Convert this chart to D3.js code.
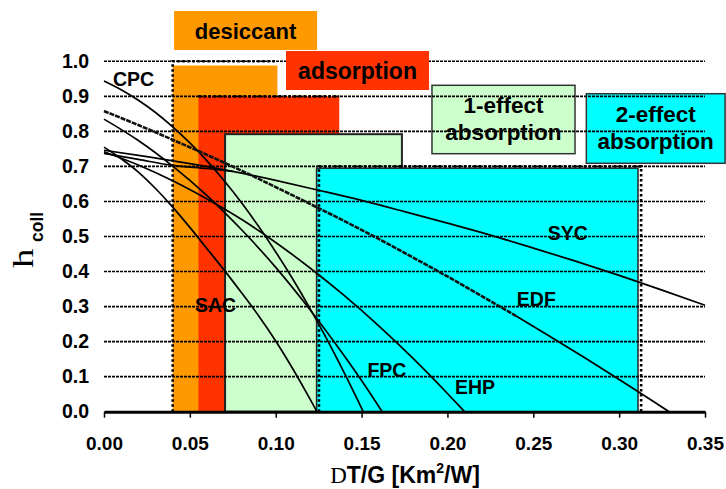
<!DOCTYPE html>
<html>
<head>
<meta charset="utf-8">
<title>Collector efficiency vs dT/G</title>
<script src="https://d3js.org/d3.v7.min.js"></script>
<style>
  body { margin: 0; background: #fff; }
  text { font-family: "Liberation Sans", Arial, sans-serif; }
</style>
</head>
<body>
<script>

// ---- data (x = dT/G [Km2/W], y = collector efficiency) ----
var xTicks = [0, 0.05, 0.10, 0.15, 0.20, 0.25, 0.30, 0.35];
var yTicks = [0, 0.1, 0.2, 0.3, 0.4, 0.5, 0.6, 0.7, 0.8, 0.9, 1.0];

var CPC = [[0,0.944],[0.01,0.919],[0.02,0.889],[0.03,0.854],[0.04,0.813],[0.05,0.767],[0.06,0.716],
           [0.07,0.659],[0.08,0.597],[0.09,0.529],[0.10,0.456],[0.11,0.378],[0.12,0.294],[0.13,0.205],
           [0.14,0.110],[0.151,0]];
var EDF = [[0,0.858],[0.02,0.818],[0.04,0.776],[0.06,0.733],[0.08,0.688],[0.10,0.641],[0.12,0.593],
           [0.14,0.544],[0.16,0.493],[0.18,0.440],[0.20,0.386],[0.22,0.330],[0.24,0.273],[0.26,0.214],
           [0.28,0.154],[0.30,0.092],[0.32,0.029],[0.329,0]];
var SYC = [[0,0.746],[0.025,0.728],[0.05,0.708],[0.075,0.686],[0.10,0.660],[0.125,0.632],[0.15,0.603],
           [0.175,0.571],[0.20,0.538],[0.225,0.504],[0.25,0.467],[0.275,0.429],[0.30,0.389],
           [0.325,0.347],[0.35,0.304]];
var SYC2 = [[0,0.737],[0.02,0.720],[0.04,0.703],[0.06,0.694],[0.075,0.686]];
var SAC = [[0,0.755],[0.01,0.722],[0.02,0.684],[0.03,0.637],[0.04,0.584],[0.05,0.526],[0.06,0.465],
           [0.07,0.404],[0.08,0.340],[0.09,0.274],[0.10,0.202],[0.11,0.122],[0.12,0.036],[0.124,0]];
var FPC = [[0,0.835],[0.02,0.774],[0.04,0.701],[0.06,0.617],[0.08,0.520],[0.10,0.412],[0.12,0.291],
           [0.14,0.159],[0.15,0.089],[0.162,0]];
var EHP = [[0,0.742],[0.02,0.704],[0.04,0.659],[0.06,0.607],[0.08,0.549],[0.10,0.483],[0.12,0.410],
           [0.14,0.331],[0.16,0.245],[0.18,0.152],[0.20,0.052],[0.21,0]];

// operating ranges of the chillers: [x from, x to, top efficiency]
var regionNames  = ["desiccant", "adsorption", "1-effect absorption", "2-effect absorption"];
var regionFrom   = [0.040, 0.055, 0.0705, 0.1238];
var regionTo     = [0.101, 0.137, 0.1735, 0.311];
var regionTop    = [0.988, 0.900, 0.792, 0.695];
var regionLimit  = [1.0, 0.9, null, 0.7];

// ---- layout ----
var width = 726, height = 489;
var fills = ["#FF9900", "#FF3300", "#CCFFCC", "#00FFFF"];

var x = d3.scaleLinear().domain([0, 0.35]).range([104, 705]);
var y = d3.scaleLinear().domain([0, 1]).range([411.7, 61.3]);

var svg = d3.select("body").append("svg")
    .attr("width", width)
    .attr("height", height)
    .style("background", "#fff");

// label boxes (positions in chart units)
var boxes = [
  {x0:0.191,  x1:0.2743, y0:0.7363, y1:0.9315, fill:fills[2], border:true, lines:["1-effect","absorption"], base:[0.8525,0.7754], size:22.5},
  {x0:0.2809, x1:0.3617, y0:0.7089, y1:0.9075, fill:fills[3], border:true, lines:["2-effect","absorption"], base:[0.8268,0.7497], size:22.5},
  {x0:0.0408, x1:0.1241, y0:1.0323, y1:1.1435, fill:fills[0], border:false, lines:["desiccant"], base:[1.0636], size:22},
  {x0:0.106,  x1:0.1893, y0:0.9181, y1:1.0294, fill:fills[1], border:false, lines:["adsorption"], base:[0.9495], size:23}
];

function drawBox(b) {
  svg.append("rect")
    .attr("x", x(b.x0)).attr("y", y(b.y1))
    .attr("width", x(b.x1) - x(b.x0)).attr("height", y(b.y0) - y(b.y1))
    .attr("fill", b.fill)
    .attr("stroke", b.border ? "#333" : "none")
    .attr("stroke-width", 1.5);
}
function drawBoxText(b) {
  b.lines.forEach(function(t, i) {
    svg.append("text")
      .attr("x", x((b.x0 + b.x1) / 2)).attr("y", y(b.base[i]))
      .attr("text-anchor", "middle")
      .attr("font-weight", "bold").attr("font-size", b.size)
      .text(t);
  });
}

// coloured regions
var reg = svg.append("g");
regionNames.forEach(function(n, i) {
  reg.append("rect")
    .attr("x", x(regionFrom[i]))
    .attr("y", y(regionTop[i]))
    .attr("width", x(regionTo[i]) - x(regionFrom[i]))
    .attr("height", y(0) - y(regionTop[i]))
    .attr("fill", fills[i])
    .attr("stroke", i >= 2 ? "#222" : "none")
    .attr("stroke-width", i == 2 ? 2 : 1.5);
});

drawBox(boxes[0]);
drawBox(boxes[1]);

// dashed grid
svg.append("g").selectAll("line")
  .data(yTicks.filter(function(d) { return d > 0; }))
  .enter().append("line")
    .attr("x1", x(0)).attr("x2", x(0.35))
    .attr("y1", function(d) { return y(d); })
    .attr("y2", function(d) { return y(d); })
    .attr("stroke", "#000").attr("stroke-width", 1.6)
    .attr("stroke-dasharray", "3,1");

// dotted limits of the regions
var dots = svg.append("g")
  .attr("stroke", "#000").attr("stroke-width", 2.6)
  .attr("stroke-dasharray", "2.5,2.5").attr("fill", "none");
// desiccant: left + top
dots.append("path").attr("d", "M" + x(0.04) + "," + y(0) + "V" + y(regionLimit[0]) + "H" + x(0.0996));
// adsorption: top
dots.append("path").attr("d", "M" + x(regionFrom[1]) + "," + y(regionLimit[1]) + "H" + x(regionTo[1]));
// 2-effect: left, top, right
dots.append("path").attr("d", "M" + x(0.1252) + "," + y(0) + "V" + y(regionLimit[3]) + "H" + x(0.3128) + "V" + y(0));

drawBoxText(boxes[0]);
drawBoxText(boxes[1]);
drawBox(boxes[2]);
drawBox(boxes[3]);
drawBoxText(boxes[2]);
drawBoxText(boxes[3]);

// efficiency curves
var line = d3.line()
  .x(function(d) { return x(d[0]); })
  .y(function(d) { return y(d[1]); })
  .curve(d3.curveMonotoneX);

var curves = svg.append("g").attr("fill", "none").attr("stroke", "#000");
[CPC, SYC, SYC2, SAC, FPC, EHP].forEach(function(c) {
  curves.append("path").attr("d", line(c)).attr("stroke-width", 1.7);
});
// EDF is mottled up to ~0.23, then plain
curves.append("path")
  .attr("d", line(EDF.filter(function(d) { return d[0] <= 0.24; })))
  .attr("stroke", "#111").attr("stroke-width", 2.6).attr("stroke-dasharray", "5,1");
curves.append("path")
  .attr("d", line(EDF.filter(function(d) { return d[0] >= 0.24; })))
  .attr("stroke-width", 1.8);

// curve names
var curveLabels = [["CPC",0.0052,0.93],["SAC",0.053,0.2845],["SYC",0.2584,0.49],
                   ["EDF",0.2404,0.3017],["FPC",0.1534,0.099],["EHP",0.2044,0.0505]];
svg.append("g").selectAll("text")
  .data(curveLabels)
  .enter().append("text")
    .attr("x", function(d) { return x(d[1]); })
    .attr("y", function(d) { return y(d[2]); })
    .attr("font-weight", "bold").attr("font-size", 19.5)
    .text(function(d) { return d[0]; });

// x axis
var xAxis = svg.append("g")
  .attr("transform", "translate(0," + y(0) + ")")
  .call(d3.axisBottom(x).tickValues(xTicks).tickFormat(d3.format(".2f"))
        .tickSize(6).tickSizeOuter(0).tickPadding(19));
xAxis.select(".domain").attr("stroke-width", 3);
xAxis.selectAll(".tick line").attr("stroke-width", 1.5);
xAxis.selectAll("text").attr("font-size", 19).attr("font-weight", "bold").attr("fill", "#000");

// y axis (labels only)
var yAxis = svg.append("g")
  .attr("transform", "translate(" + x(0) + ",0)")
  .call(d3.axisLeft(y).tickValues(yTicks).tickFormat(d3.format(".1f"))
        .tickSize(0).tickPadding(15));
yAxis.select(".domain").remove();
yAxis.selectAll("text").attr("font-size", 19.5).attr("font-weight", "bold").attr("fill", "#000");

// axis titles
var xt = svg.append("text")
  .attr("x", 405).attr("y", 483)
  .attr("text-anchor", "middle")
  .attr("font-weight", "bold").attr("font-size", 23);
xt.append("tspan").style("font-family", "'Liberation Serif', serif").attr("font-weight", "normal")
  .attr("font-size", 23).text("D");
xt.append("tspan").text("T/G [Km");
xt.append("tspan").attr("font-size", 14).attr("dy", -10).text("2");
xt.append("tspan").attr("dy", 10).text("/W]");

var yt = svg.append("g").attr("transform", "translate(33,268) rotate(-90)");
yt.append("text")
  .attr("transform", "scale(1.3,1)")
  .style("font-family", "'Liberation Serif', serif").attr("font-weight", "normal")
  .attr("font-size", 30)
  .text("h");
yt.append("text")
  .attr("x", 26).attr("y", 9.7)
  .attr("font-weight", "bold").attr("font-size", 17.5)
  .text("coll");

</script>
</body>
</html>
